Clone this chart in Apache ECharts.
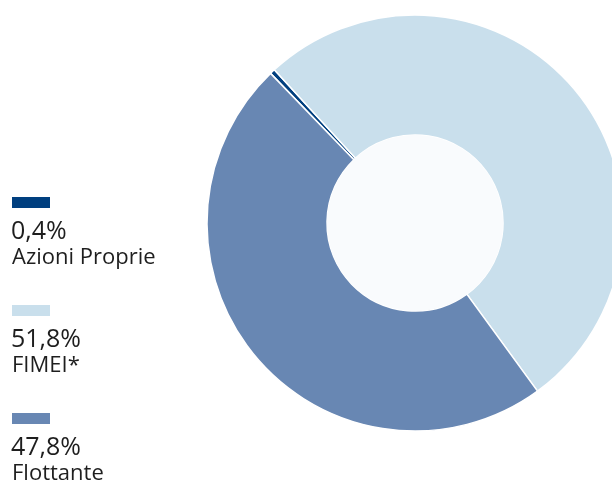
<!DOCTYPE html>
<html><head><meta charset="utf-8">
<script src="https://cdn.jsdelivr.net/npm/echarts@6/dist/echarts.min.js"></script>
<style>html,body{margin:0;padding:0;background:#fff}#c{width:612px;height:483px}</style>
</head><body><div id="c"></div>
<script>
const categories = ['Azioni Proprie', 'FIMEI*', 'Flottante'];
const values = [0.4, 51.8, 47.8];
const valueLabels = ['0,4%', '51,8%', '47,8%'];
const colors = ['#003f7f', '#c9dfec', '#6887b3'];

const chart = echarts.init(document.getElementById('c'), null, {renderer: 'canvas'});
const font = '"Open Sans", sans-serif';
const graphic = [];
categories.forEach((name, i) => {
  const top = 197 + i * 108;
  graphic.push({type: 'rect', left: 12, top: top, shape: {width: 38, height: 11}, style: {fill: colors[i]}});
  graphic.push({type: 'text', left: 11, top: top + 22, style: {text: valueLabels[i], font: '25px ' + font, fill: '#1e1e1e'}});
  graphic.push({type: 'text', left: 12, top: top + 50, style: {text: name, font: '22px ' + font, fill: '#1e1e1e'}});
});
graphic.push({type: 'circle', shape: {cx: 415, cy: 223, r: 88}, style: {fill: '#f9fbfd'}, z: 10});

chart.setOption({
  animation: false,
  graphic: graphic,
  series: [{
    type: 'pie',
    center: [415, 223],
    radius: [88, 208],
    startAngle: 134,
    clockwise: true,
    label: {show: false},
    labelLine: {show: false},
    itemStyle: {borderColor: '#ffffff', borderWidth: 1.5},
    emphasis: {disabled: true},
    data: categories.map((n, i) => ({name: n, value: values[i], itemStyle: {color: colors[i]}}))
  }]
});
</script></body></html>
